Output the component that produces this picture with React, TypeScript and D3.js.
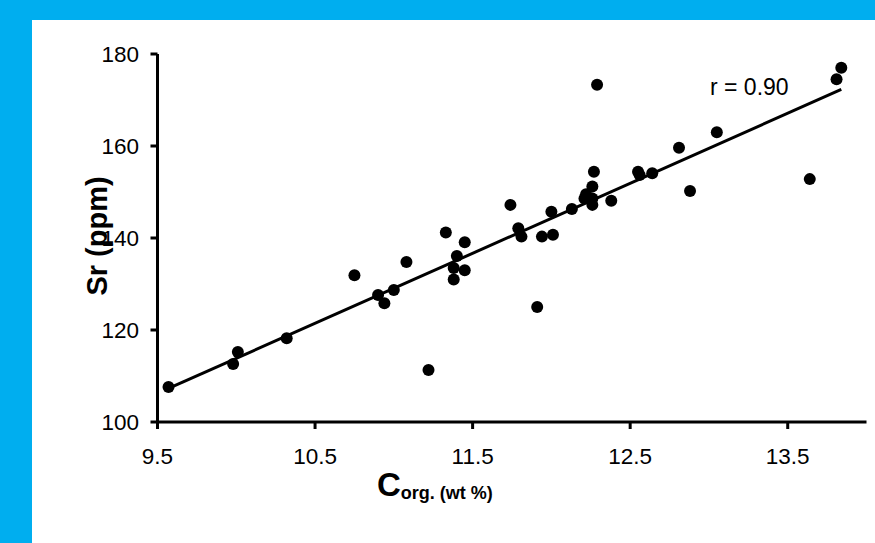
import React from 'react';
import * as d3 from 'd3';

// organic carbon (wt %) and strontium (ppm)
const corg = [9.57, 9.98, 10.01, 10.32, 10.75, 10.9, 10.94, 11.0, 11.08, 11.22, 11.33, 11.38, 11.38, 11.4, 11.45, 11.45, 11.74, 11.79, 11.81, 11.91, 11.94, 12.0, 12.01, 12.13, 12.21, 12.22, 12.26, 12.26, 12.26, 12.27, 12.29, 12.38, 12.55, 12.56, 12.64, 12.81, 12.88, 13.05, 13.64, 13.81, 13.84];
const sr = [107.6, 112.6, 115.2, 118.2, 131.9, 127.6, 125.8, 128.7, 134.8, 111.3, 141.2, 131.0, 133.5, 136.1, 139.1, 133.0, 147.2, 142.1, 140.3, 125.0, 140.3, 145.7, 140.7, 146.3, 148.6, 149.5, 148.6, 147.2, 151.2, 154.4, 173.3, 148.1, 154.4, 153.7, 154.1, 159.6, 150.2, 163.0, 152.8, 174.5, 177.0];
const xTicks = [9.5, 10.5, 11.5, 12.5, 13.5];
const yTicks = [100, 120, 140, 160, 180];
const rLabel = 'r = 0.90';

const W = 875;
const H = 543;
const blue = '#00AEEF';
const font = 'Arial, "Liberation Sans", sans-serif';

export default function App() {
  const x = d3.scaleLinear().domain([9.5, 14]).range([157.5, 866.5]);
  const y = d3.scaleLinear().domain([100, 180]).range([422, 54]);

  // least squares fit for the trend line
  const mx = d3.mean(corg)!;
  const my = d3.mean(sr)!;
  const sxy = d3.sum(corg, (v, i) => (v - mx) * (sr[i] - my));
  const sxx = d3.sum(corg, (v) => (v - mx) ** 2);
  const slope = sxy / sxx;
  const icpt = my - slope * mx;
  const [x0, x1] = d3.extent(corg) as [number, number];
  const fit = d3.line<number>().x((v) => x(v)).y((v) => y(icpt + slope * v));

  return (
    <svg width={W} height={H} style={{ position: 'absolute', left: 0, top: 0 }} fontFamily={font}>
      <rect width={W} height={H} fill={blue} />
      <rect x={32} y={20} width={W - 32} height={H - 20} fill="#fff" />

      {/* y axis */}
      <line x1={x(9.5)} x2={x(9.5)} y1={y(180)} y2={y(100) + 1.5} stroke="#000" strokeWidth={3} />
      {yTicks.map((t) => (
        <g key={t}>
          <line x1={x(9.5) - 7} x2={x(9.5)} y1={y(t)} y2={y(t)} stroke="#000" strokeWidth={3} />
          <text x={139} y={y(t)} dy="0.35em" textAnchor="end" fontSize={22.5}>{t}</text>
        </g>
      ))}

      {/* x axis */}
      <line x1={x(9.5) - 1.5} x2={x(14)} y1={y(100)} y2={y(100)} stroke="#000" strokeWidth={3} />
      {xTicks.map((t) => (
        <g key={t}>
          <line x1={x(t)} x2={x(t)} y1={y(100)} y2={y(100) + 7} stroke="#000" strokeWidth={3} />
          <text x={x(t)} y={464} textAnchor="middle" fontSize={22.5}>{t}</text>
        </g>
      ))}

      {/* titles */}
      <text transform="translate(107,236) rotate(-90)" textAnchor="middle" fontSize={29} fontWeight="bold">Sr (ppm)</text>
      <text x={377} y={496} fontWeight="bold">
        <tspan fontSize={33}>C</tspan>
        <tspan fontSize={18} dy={3}>org. (wt %)</tspan>
      </text>

      <path d={fit([x0, x1]) ?? ''} fill="none" stroke="#000" strokeWidth={3} />
      {corg.map((v, i) => (
        <circle key={i} cx={x(v)} cy={y(sr[i])} r={6} fill="#000" />
      ))}
      <text x={710} y={95} fontSize={23}>{rLabel}</text>
    </svg>
  );
}
